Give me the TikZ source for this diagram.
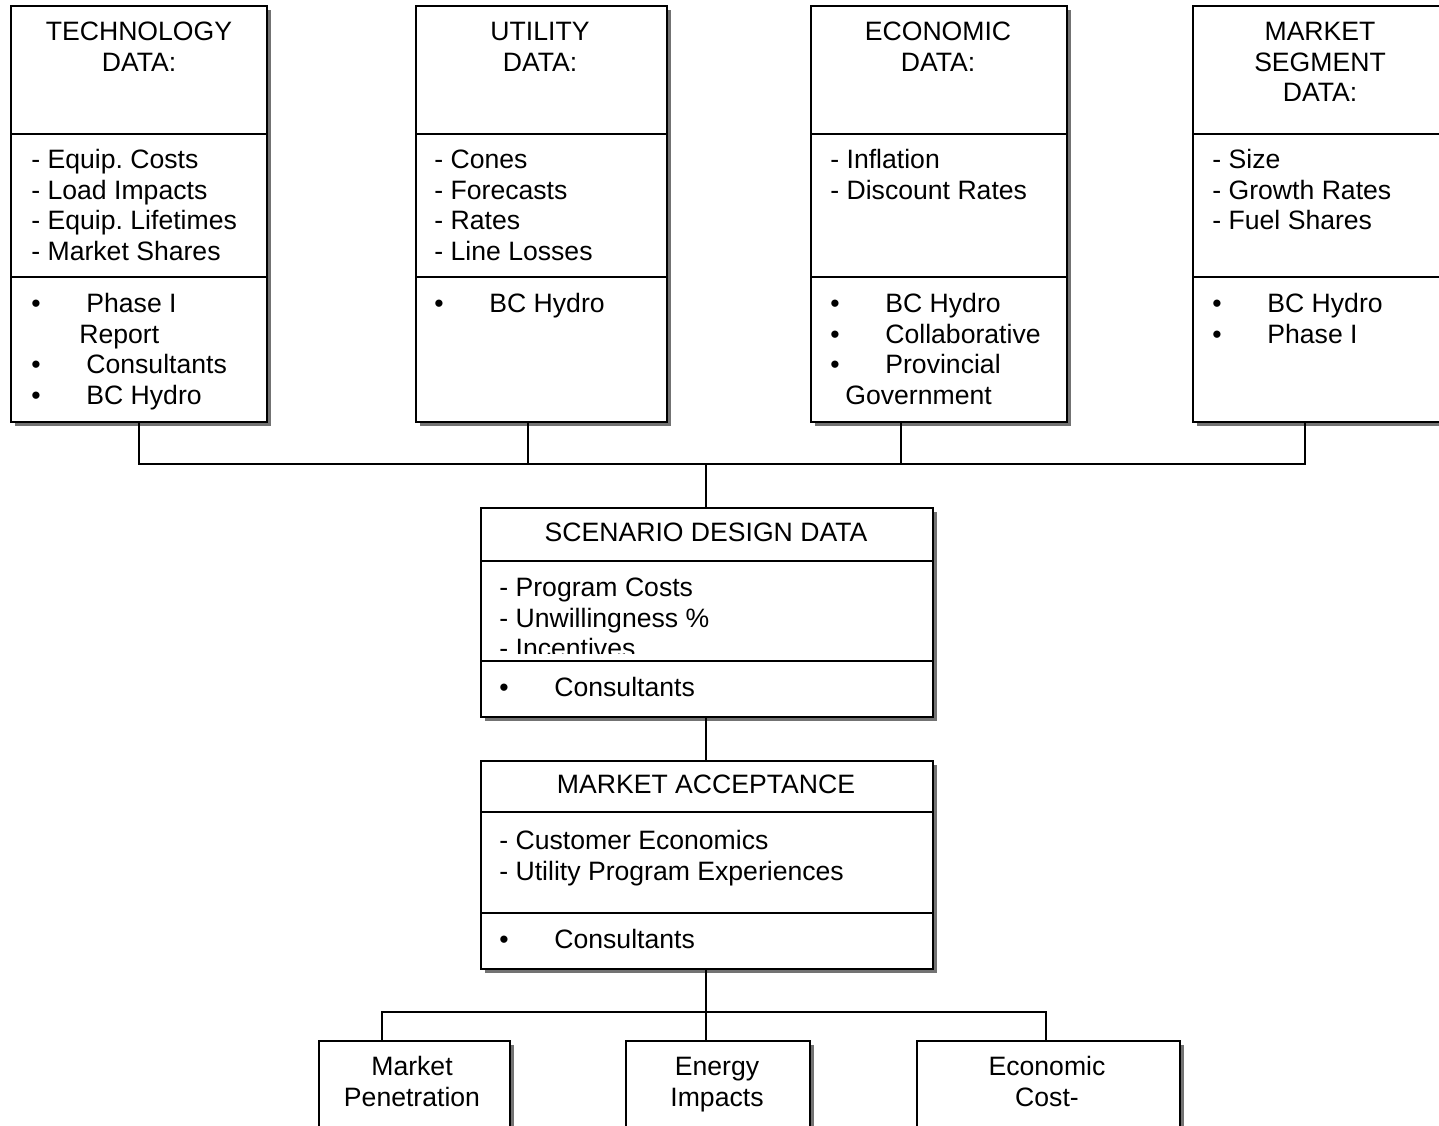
\documentclass[tikz,border=0pt]{standalone}
\usepackage{fontspec}
\setmainfont{Liberation Sans}
\usetikzlibrary{shadows}

\frenchspacing
\newcommand{\itembul}{\makebox[27.5pt][l]{\textbullet}}

\begin{document}
\begin{tikzpicture}[
    x=0.5pt, y=-0.5pt,
    font=\fontsize{13.3}{15.25}\selectfont,
    databox/.style={draw, line width=0.8pt, fill=white, inner sep=0pt, anchor=north west,
                    drop shadow={shadow xshift=2pt, shadow yshift=-2pt, fill=gray!90!black, opacity=1}},
    divider/.style={line width=0.8pt},
    link/.style={line width=0.8pt},
    head/.style={anchor=base, inner sep=0pt, align=center},
    items/.style={anchor=base west, inner sep=0pt, align=left}
]
\useasboundingbox (0,0) rectangle (1439,1125);

% input data boxes (text nodes sit on the baseline of their last line)
\node[databox, minimum width=128pt,   minimum height=208pt] (tech) at (10,5)   {};
\node[databox, minimum width=125.5pt, minimum height=208pt] (util) at (415,5)  {};
\node[databox, minimum width=128pt,   minimum height=208pt] (econ) at (810,5)  {};
\node[databox, minimum width=128pt,   minimum height=208pt] (mseg) at (1192,5) {};

\foreach \b in {tech, util, econ, mseg} {
    \draw[divider] (\b.west |- 0,134) -- (\b.east |- 0,134);
    \draw[divider] (\b.west |- 0,277) -- (\b.east |- 0,277);
}

\node[head]  (techhead) at (139,71)  {TECHNOLOGY\\DATA:};
\node[items] (techlist) at (31,260)  {- Equip. Costs\\- Load Impacts\\- Equip. Lifetimes\\- Market Shares};
\node[items] (techsrc)  at (31,404)  {\itembul Phase I\\\hspace{24pt}Report\\\itembul Consultants\\\itembul BC Hydro};

\node[head]  (utilhead) at (540,71)    {UTILITY\\DATA:};
\node[items] (utillist) at (434,260)   {- Cones\\- Forecasts\\- Rates\\- Line Losses};
\node[items] (utilsrc)  at (434,312.5) {\itembul BC Hydro};

\node[head]  (econhead) at (938,71)  {ECONOMIC\\DATA:};
\node[items] (econlist) at (830,199) {- Inflation\\- Discount Rates};
\node[items] (econsrc)  at (830,404) {\itembul BC Hydro\\\itembul Collaborative\\\itembul Provincial\\\hspace{7.5pt}Government};

\node[head]  (mseghead) at (1320,101.5) {MARKET\\SEGMENT\\DATA:};
\node[items] (mseglist) at (1212,229.5) {- Size\\- Growth Rates\\- Fuel Shares};
\node[items] (msegsrc)  at (1212,343)   {\itembul BC Hydro\\\itembul Phase I};

% scenario design
\node[databox, minimum width=226pt, minimum height=104.5pt] (scen) at (480,507) {};
\draw[divider] (scen.west |- 0,561) -- (scen.east |- 0,561);
\draw[divider] (scen.west |- 0,661) -- (scen.east |- 0,661);
\node[head] (scenhead) at (706,541.5) {SCENARIO DESIGN DATA};
\begin{scope}
    \clip (480,561) rectangle (932,653);
    \node[items] (scenlist) at (499,657.5) {- Program Costs\\- Unwillingness \%\\- Incentives};
\end{scope}
\node[items] (scensrc) at (499,696.5) {\itembul Consultants};

% market acceptance
\node[databox, minimum width=226pt, minimum height=104pt] (macc) at (480,760) {};
\draw[divider] (macc.west |- 0,812) -- (macc.east |- 0,812);
\draw[divider] (macc.west |- 0,913) -- (macc.east |- 0,913);
\node[head]  (macchead) at (706,793.5) {MARKET ACCEPTANCE};
\node[items] (macclist) at (499,880)   {- Customer Economics\\- Utility Program Experiences};
\node[items] (maccsrc)  at (499,948.5) {\itembul Consultants};

% outputs
\node[databox, minimum width=95.5pt,  minimum height=52.5pt] (pen)  at (318,1040) {};
\node[databox, minimum width=92pt,    minimum height=52.5pt] (ener) at (625,1040) {};
\node[databox, minimum width=131.5pt, minimum height=52.5pt] (cost) at (916,1040) {};
\node[head] (pentxt)  at (412,1106)  {Market\\Penetration};
\node[head] (enertxt) at (717,1106)  {Energy\\Impacts};
\node[head] (costtxt) at (1047,1106) {Economic\\Cost-};

% connectors
\coordinate (topbus) at (706,464);
\coordinate (ut) at (528,464);
\coordinate (et) at (901,464);
\coordinate (mt) at (1305,464);
\draw[link] (tech.south) |- (mt) -- (mt |- mseg.south);
\draw[link] (ut |- util.south) -- (ut);
\draw[link] (et |- econ.south) -- (et);
\draw[link] (topbus) -- (topbus |- scen.north);
\draw[link] (topbus |- scen.south) -- (topbus |- macc.north);

\coordinate (lowbus) at (706,1012);
\coordinate (pt) at (382,1012);
\coordinate (ct) at (1046,1012);
\draw[link] (lowbus |- macc.south) -- (lowbus |- ener.north);
\draw[link] (pt |- pen.north) -- (pt) -- (ct) -- (ct |- cost.north);

\end{tikzpicture}
\end{document}
